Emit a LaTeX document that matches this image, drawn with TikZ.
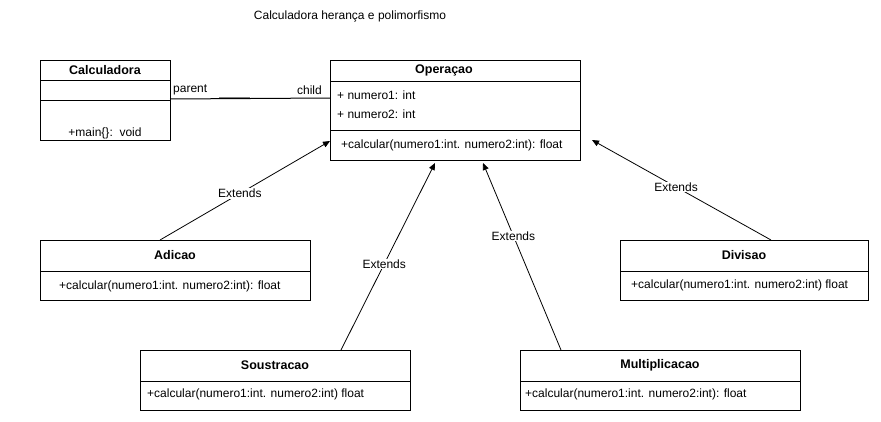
\documentclass[tikz,border=0pt]{standalone}
\usepackage{fontspec}
\setmainfont{Liberation Sans}
\usetikzlibrary{arrows.meta,calc}
\begin{document}
\begin{tikzpicture}[x=1pt,y=-1pt,
  every node/.style={font=\fontsize{12}{14}\selectfont},
  box/.style={draw, line width=1pt, inner sep=0pt, outer sep=0pt, fill=white},
  hdr/.style={font=\fontsize{12.5}{14}\selectfont\bfseries, inner sep=0pt},
  mem/.style={anchor=west, inner sep=0pt},
  sep/.style={line width=1pt},
  ext/.style={-{Triangle[length=7pt,width=6pt]}, line width=0.8pt},
  lbl/.style={fill=white, inner sep=1pt}]
\useasboundingbox (0,0) rectangle (881,421);
% title
\node (title) at (350,16) {Calculadora herança e polimorfismo};
% Calculadora
\node[box, minimum width=130pt, minimum height=80pt] (calc) at (105,100) {};
\node[hdr] (calct) at (105,70) {Calculadora};
\draw[sep] ($(calc.north west)+(0,20)$) -- ($(calc.north east)+(0,20)$);
\draw[sep] ($(calc.north west)+(0,40)$) -- ($(calc.north east)+(0,40)$);
\node[inner sep=0pt] (calcm) at (105,133) {+main\{\}:\ \ void};
% Operacao
\node[box, minimum width=250pt, minimum height=100pt] (op) at (455,110) {};
\node[hdr] (opt) at (444,70) {Operaçao};
\draw[sep] ($(op.north west)+(0,21)$) -- ($(op.north east)+(0,21)$);
\draw[sep] ($(op.north west)+(0,70)$) -- ($(op.north east)+(0,70)$);
\node[mem] (opa1) at (337,95) {+ numero1: int};
\node[mem] (opa2) at (337,114) {+ numero2: int};
\node[mem] (opm) at (341,145) {+calcular(numero1:int. numero2:int): float};
% association
\coordinate (calcR) at ($(calc.east)+(0,-1)$);
\coordinate (opL) at ($(op.west)+(0,-12)$);
\draw[line width=1pt] (calcR) -- (opL);
\node[anchor=west, inner sep=0pt] (parent) at (173,90) {parent};
\node[anchor=east, inner sep=0pt] (child) at (322,90) {child};
\coordinate (g1) at (219,97.5);
\coordinate (g2) at (250,97.5);
\draw[gray, line width=1pt] (g1) -- (g2);
% Adicao
\node[box, minimum width=270pt, minimum height=60pt] (ad) at (175,270) {};
\node[hdr] (adt) at (175,255) {Adicao};
\draw[sep] ($(ad.north west)+(0,31)$) -- ($(ad.north east)+(0,31)$);
\node[mem] (adm) at (59,286) {+calcular(numero1:int. numero2:int): float};
% Divisao
\node[box, minimum width=248pt, minimum height=60pt] (dv) at (744,270) {};
\node[hdr] (dvt) at (744,255) {Divisao};
\draw[sep] ($(dv.north west)+(0,31)$) -- ($(dv.north east)+(0,31)$);
\node[mem] (dvm) at (631,285) {+calcular(numero1:int. numero2:int) float};
% Soustracao
\node[box, minimum width=270pt, minimum height=60pt] (so) at (275,380) {};
\node[hdr] (sot) at (275,365) {Soustracao};
\draw[sep] ($(so.north west)+(0,31)$) -- ($(so.north east)+(0,31)$);
\node[mem] (som) at (147,394) {+calcular(numero1:int. numero2:int) float};
% Multiplicacao
\node[box, minimum width=280pt, minimum height=60pt] (mu) at (660,380) {};
\node[hdr] (mut) at (660,365) {Multiplicacao};
\draw[sep] ($(mu.north west)+(0,31)$) -- ($(mu.north east)+(0,31)$);
\node[mem] (mum) at (525,394) {+calcular(numero1:int. numero2:int): float};
% arrows
\coordinate (adS) at ($(ad.north west)+(120,0)$);
\coordinate (adE) at ($(op.north west)+(0,81)$);
\draw[ext] (adS) -- node[lbl, pos=0.47] {Extends} (adE);
\coordinate (soS) at ($(so.north west)+(201,0)$);
\coordinate (soE) at ($(op.south west)+(105,3)$);
\draw[ext] (soS) -- node[lbl, pos=0.46] {Extends} (soE);
\coordinate (muS) at ($(mu.north west)+(41,0)$);
\coordinate (muE) at ($(op.south west)+(153,3)$);
\draw[ext] (muS) -- node[lbl, pos=0.61] {Extends} (muE);
\coordinate (dvS) at ($(dv.north west)+(151,0)$);
\coordinate (dvE) at ($(op.north east)+(12,80)$);
\draw[ext] (dvS) -- node[lbl, pos=0.53] {Extends} (dvE);
\end{tikzpicture}
\end{document}
